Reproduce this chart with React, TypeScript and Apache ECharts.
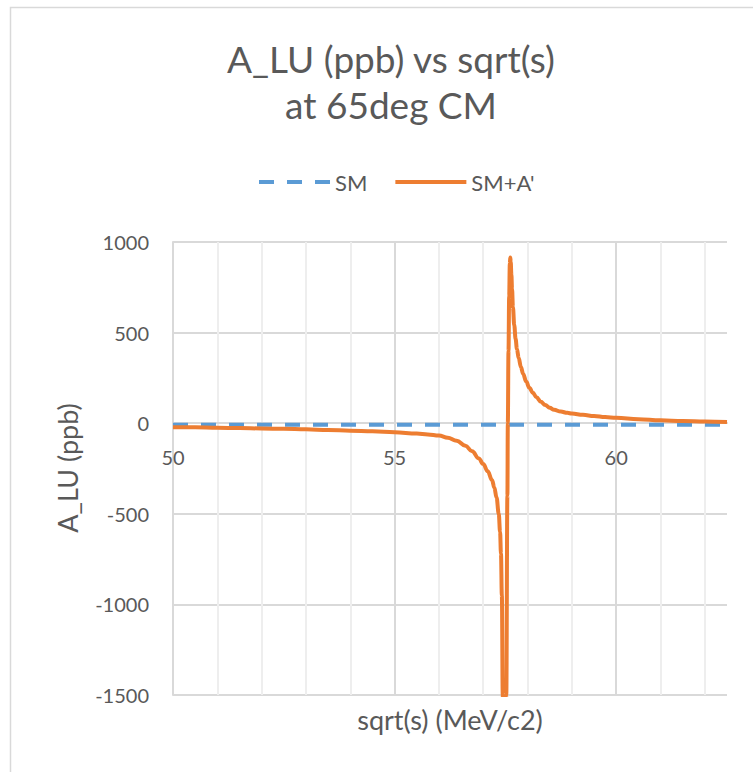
import React, { useEffect, useRef } from 'react';
import * as echarts from 'echarts';

// ---- data ----
const sqrtS = [
  50, 50.5, 51, 51.5, 52, 52.5, 53, 53.5, 54, 54.5,
  55, 55.5, 55.75, 56, 56.2, 56.4, 56.6, 56.75, 56.9, 57,
  57.1, 57.2, 57.25, 57.3, 57.35, 57.38, 57.4, 57.42, 57.44, 57.47,
  57.52, 57.545, 57.555, 57.57, 57.585, 57.6, 57.61, 57.62, 57.635, 57.65,
  57.67, 57.7, 57.73, 57.76, 57.8, 57.85, 57.9, 57.97, 58.04, 58.12,
  58.2, 58.3, 58.4, 58.5, 58.6, 58.75, 58.9, 59, 59.25, 59.5,
  59.75, 60, 60.5, 61, 61.5, 62, 62.5,
];
const smPlusAprime = [
  -22, -23, -25, -27, -29, -31, -34, -37, -41, -45,
  -50, -57, -62, -68, -80, -97, -125, -155, -195, -225,
  -265, -315, -355, -410, -500, -600, -720, -950, -1500, -2600,
  -1500, -400, 0, 400, 700, 880, 915, 890, 820, 740,
  640, 540, 465, 410, 360, 310, 272, 230, 195, 168,
  143, 118, 100, 85, 74, 64, 57, 53, 46, 40,
  34, 30, 22, 16, 12, 9, 6,
];
const smX = [50, 52.5, 55, 57.5, 60, 62.5];
const smValues = [-8, -8, -8, -8, -8, -8];

const seriesNames = ['SM', "SM+A'"];
const titleLines = ['A_LU (ppb) vs sqrt(s)', 'at 65deg CM'];
const xAxisTitle = 'sqrt(s) (MeV/c2)';
const yAxisTitle = 'A_LU (ppb)';

const FONT = 'Lato, "Open Sans", sans-serif';
const TEXT = '#595959';
const GRID = '#d9d9d9';
const MINOR = '#eeeeee';

const GRID_TOP = 242;
const GRID_BOTTOM = 77;
const Y_MIN = -1500;
const Y_MAX = 1000;

export default function App() {
  const ref = useRef<HTMLDivElement>(null);
  useEffect(() => {
    const chart = echarts.init(ref.current!, null, { renderer: 'svg' });
    const plotH = 772 - GRID_TOP - GRID_BOTTOM;
    // distance from bottom edge of the plot to the y = 0 line
    const zeroOffset = (-Y_MIN / (Y_MAX - Y_MIN)) * plotH;
    const option: any = {
      animation: false,
      backgroundColor: '#ffffff',
      grid: { left: 173, top: GRID_TOP, right: 26, bottom: GRID_BOTTOM },
      legend: {
        left: 252,
        top: 166,
        itemWidth: 71,
        itemHeight: 14,
        itemGap: 26,
        data: seriesNames,
        textStyle: { fontSize: 22, color: TEXT, fontFamily: FONT },
        lineStyle: { width: 4 },
        itemStyle: { opacity: 0 },
      },
      xAxis: {
        type: 'value',
        min: 50,
        max: 62.5,
        interval: 5,
        offset: -zeroOffset,
        axisLine: { show: true, onZero: false, lineStyle: { color: GRID, width: 2 } },
        axisTick: { show: false },
        axisLabel: {
          fontSize: 20,
          color: TEXT,
          fontFamily: FONT,
          margin: 24,
          showMaxLabel: false,
          formatter: (v: number) => (v % 5 === 0 ? String(v) : ''),
        },
        splitLine: { show: true, showMaxLine: false, lineStyle: { color: GRID, width: 2 } },
        minorTick: { show: false, splitNumber: 5 },
        minorSplitLine: { show: true, lineStyle: { color: MINOR, width: 2 } },
      },
      yAxis: {
        type: 'value',
        min: Y_MIN,
        max: Y_MAX,
        interval: 500,
        axisLine: { show: true, onZero: false, lineStyle: { color: GRID, width: 2 } },
        axisTick: { show: false },
        axisLabel: {
          fontSize: 20,
          color: TEXT,
          fontFamily: FONT,
          margin: 24,
          formatter: (v: number) => String(v),
        },
        splitLine: { show: true, lineStyle: { color: GRID, width: 2 } },
      },
      series: [
        {
          name: seriesNames[0],
          type: 'line',
          data: smX.map((x, i) => [x, smValues[i]]),
          symbol: 'none',
          lineStyle: { color: '#5B9BD5', width: 4, type: [15, 13] },
          itemStyle: { color: '#5B9BD5' },
          z: 3,
        },
        {
          name: seriesNames[1],
          type: 'line',
          data: sqrtS.map((x, i) => [x, smPlusAprime[i]]),
          symbol: 'none',
          smooth: 0.4,
          smoothMonotone: 'x',
          clip: true,
          lineStyle: { color: '#ED7D31', width: 4 },
          itemStyle: { color: '#ED7D31' },
          z: 4,
        },
      ],
      graphic: [
        {
          type: 'rect',
          shape: { x: 10.5, y: 7.5, width: 1000, height: 1000 },
          style: { fill: 'none', stroke: GRID, lineWidth: 1.5 },
          silent: true,
        },
        {
          type: 'text',
          x: 391,
          y: 58,
          style: { text: titleLines[0], fill: TEXT, font: `37px ${FONT}`, align: 'center', verticalAlign: 'middle' },
        },
        {
          type: 'text',
          x: 391,
          y: 104,
          style: { text: titleLines[1], fill: TEXT, font: `37px ${FONT}`, align: 'center', verticalAlign: 'middle' },
        },
        {
          type: 'text',
          x: 450,
          y: 719,
          style: { text: xAxisTitle, fill: TEXT, font: `27px ${FONT}`, align: 'center', verticalAlign: 'middle' },
        },
        {
          type: 'text',
          x: 67,
          y: 468,
          rotation: Math.PI / 2,
          style: { text: yAxisTitle, fill: TEXT, font: `27px ${FONT}`, align: 'center', verticalAlign: 'middle' },
        },
      ],
    };
    chart.setOption(option);
    return () => chart.dispose();
  }, []);
  return (
    <div
      ref={ref}
      style={{ position: 'absolute', left: 0, top: 0, width: 753, height: 772, background: '#fff' }}
    />
  );
}
